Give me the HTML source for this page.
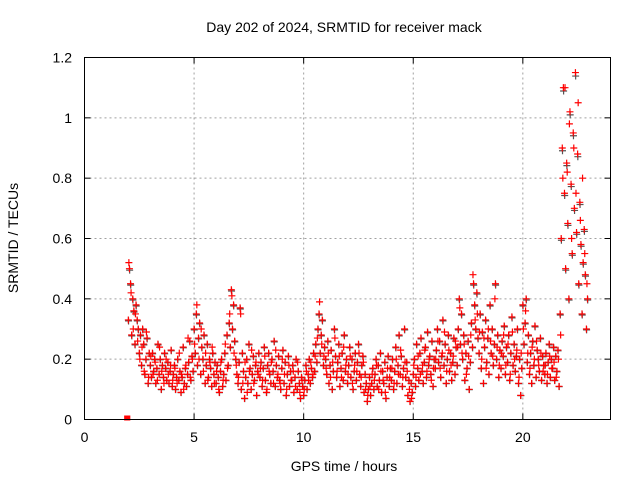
<!DOCTYPE html>
<html><head><meta charset="utf-8">
<style>
html,body{margin:0;padding:0;background:#fff;}
svg{display:block;font-family:"Liberation Sans",sans-serif;}
</style></head>
<body>
<svg id="chart" width="640" height="480" viewBox="0 0 640 480">
<rect width="640" height="480" fill="#fff"/>
<text x="344" y="32" font-size="14" text-anchor="middle" fill="#000">Day 202 of 2024, SRMTID for receiver mack</text>
<text x="344" y="471" font-size="14" text-anchor="middle" fill="#000">GPS time / hours</text>
<text transform="translate(18,238) rotate(-90)" font-size="14" text-anchor="middle" fill="#000">SRMTID / TECUs</text>
<g id="grid"></g>
<g id="ticks"></g>
<g id="points"></g>
<rect x="84.5" y="57.5" width="526" height="362" fill="none" stroke="#000" stroke-width="1"/>
</svg>
<script>
const xTicks = [0,5,10,15,20];
const yTicks = [0,0.2,0.4,0.6,0.8,1,1.2];
const yTickLabels = ["0","0.2","0.4","0.6","0.8","1","1.2"];
const zeroHours = [1.9,1.93,1.96,2.0];
const zeroValues = [0,0,0,0];
const values = [
0.33,0.50,0.45,0.28,0.40,0.36,0.25,0.38,0.33,0.30,0.22,0.28,0.18,0.30,0.25,0.15,0.20,0.27,0.12,0.22,
0.18,0.14,0.22,0.16,0.20,0.12,0.17,0.25,0.15,0.20,0.10,0.18,0.14,0.22,0.17,0.13,0.19,0.12,0.16,0.23,
0.11,0.15,0.18,0.10,0.14,0.20,0.13,0.16,0.09,0.14,0.24,0.12,0.17,0.11,0.15,0.19,0.26,0.13,0.21,0.16,
0.30,0.22,0.35,0.18,0.27,0.32,0.15,0.24,0.20,0.28,0.12,0.18,0.25,0.14,0.20,0.17,0.11,0.22,0.15,0.19,
0.12,0.18,0.14,0.09,0.16,0.20,0.11,0.15,0.22,0.13,0.28,0.18,0.32,0.24,0.43,0.30,0.38,0.26,0.20,0.15,
0.12,0.19,0.37,0.10,0.22,0.16,0.07,0.14,0.20,0.12,0.25,0.17,0.10,0.15,0.21,0.13,0.18,0.08,0.16,0.22,
0.14,0.19,0.11,0.17,0.24,0.13,0.09,0.18,0.22,0.15,0.12,0.20,0.16,0.26,0.11,0.18,0.14,0.21,0.13,0.10,
0.17,0.23,0.12,0.19,0.08,0.15,0.21,0.11,0.16,0.13,0.18,0.09,0.14,0.20,0.10,0.16,0.12,0.07,0.14,0.11,
0.08,0.13,0.18,0.10,0.15,0.20,0.12,0.17,0.14,0.22,0.16,0.25,0.19,0.30,0.35,0.22,0.28,0.33,0.18,0.24,
0.20,0.15,0.26,0.12,0.18,0.23,0.10,0.16,0.30,0.21,0.14,0.19,0.25,0.11,0.17,0.22,0.13,0.28,0.16,0.20,
0.12,0.18,0.24,0.14,0.20,0.10,0.16,0.22,0.13,0.19,0.25,0.15,0.11,0.18,0.21,0.09,0.15,0.12,0.06,0.10,
0.14,0.08,0.12,0.17,0.10,0.15,0.20,0.11,0.18,0.13,0.22,0.09,0.16,0.12,0.19,0.07,0.14,0.21,0.11,0.17,
0.13,0.20,0.10,0.16,0.24,0.12,0.18,0.28,0.15,0.21,0.11,0.17,0.30,0.14,0.19,0.08,0.13,0.06,0.12,0.09,
0.15,0.20,0.11,0.25,0.17,0.13,0.22,0.27,0.16,0.12,0.19,0.24,0.14,0.29,0.18,0.21,0.15,0.26,0.11,0.20,
0.17,0.23,0.30,0.19,0.26,0.14,0.21,0.33,0.18,0.25,0.12,0.20,0.28,0.16,0.22,0.13,0.19,0.27,0.15,0.24,
0.18,0.30,0.40,0.25,0.35,0.20,0.28,0.13,0.22,0.17,0.26,0.10,0.19,0.32,0.24,0.45,0.38,0.30,0.42,0.27,
0.22,0.35,0.17,0.29,0.12,0.24,0.33,0.19,0.27,0.15,0.38,0.22,0.30,0.18,0.25,0.45,0.20,0.28,0.14,0.23,
0.17,0.26,0.21,0.31,0.15,0.24,0.19,0.28,0.13,0.22,0.34,0.18,0.25,0.16,0.21,0.30,0.12,0.20,0.08,0.17,
0.38,0.25,0.32,0.40,0.19,0.28,0.15,0.22,0.12,0.26,0.18,0.31,0.14,0.23,0.20,0.16,0.27,0.13,0.21,0.18,
0.15,0.22,0.12,0.19,0.25,0.14,0.20,0.17,0.24,0.13,0.21,0.16,0.23,0.11,0.35,0.60,0.90,1.10,0.75,0.50,
0.85,0.65,0.40,1.02,0.78,0.55,0.95,0.70,1.15,0.62,0.88,0.45,0.72,0.58,0.35,0.52,0.63,0.48,0.30,0.40
];
const hours = values.map((v,i)=>2+i*0.05);
const valuesB = [
0.52,0.42,0.30,0.35,0.26,0.20,0.24,0.16,0.29,0.14,
0.21,0.15,0.19,0.13,0.24,0.16,0.12,0.20,0.15,0.18,
0.13,0.17,0.12,0.22,0.15,0.10,0.18,0.27,0.14,0.20,
0.25,0.38,0.20,0.30,0.16,0.22,0.13,0.19,0.24,0.12,
0.16,0.10,0.19,0.13,0.25,0.17,0.35,0.41,0.22,0.18,
0.14,0.35,0.12,0.19,0.09,0.16,0.23,0.12,0.19,0.15,
0.17,0.13,0.21,0.10,0.16,0.19,0.12,0.23,0.15,0.12,
0.20,0.15,0.10,0.18,0.13,0.16,0.11,0.19,0.09,0.13,
0.10,0.16,0.13,0.19,0.15,0.21,0.27,0.39,0.25,0.21,
0.17,0.22,0.14,0.19,0.27,0.16,0.21,0.14,0.24,0.18,
0.15,0.21,0.12,0.18,0.16,0.22,0.14,0.19,0.10,0.08,
0.11,0.15,0.13,0.18,0.10,0.16,0.13,0.09,0.17,0.14,
0.17,0.12,0.20,0.15,0.23,0.14,0.19,0.16,0.10,0.07,
0.18,0.14,0.21,0.15,0.18,0.23,0.16,0.20,0.13,0.17,
0.20,0.26,0.17,0.22,0.29,0.16,0.23,0.18,0.21,0.26,
0.24,0.37,0.22,0.25,0.15,0.21,0.28,0.48,0.33,0.35,
0.29,0.20,0.27,0.17,0.30,0.26,0.21,0.40,0.24,0.18,
0.22,0.28,0.18,0.25,0.15,0.29,0.20,0.23,0.14,0.22,
0.30,0.36,0.22,0.17,0.24,0.20,0.26,0.18,0.22,0.16,
0.18,0.15,0.21,0.17,0.19,0.14,0.20,0.28,0.80,1.10,
0.82,0.98,0.60,0.90,0.75,1.05,0.66,0.80,0.55,0.45
];
const hoursB = valuesB.map((v,i)=>2.025+i*0.1);

const X0=84.5, X1=610.5, Y0=419.5, Y1=57.5;
const xs = h => X0 + h/24*(X1-X0);
const ys = v => Y0 - v/1.2*(Y0-Y1);
const NS="http://www.w3.org/2000/svg";
const grid=document.getElementById('grid'), ticks=document.getElementById('ticks'), pts=document.getElementById('points');
function mk(tag,attrs,parent){const e=document.createElementNS(NS,tag);for(const k in attrs)e.setAttribute(k,attrs[k]);parent.appendChild(e);return e;}

xTicks.forEach(t=>{
  const x=xs(t);
  if(t>0){const g=mk('line',{x1:x,x2:x,y1:Y0,y2:Y1,stroke:'#a0a0a0','stroke-dasharray':'2,3'},grid);
  
  }
  const a=mk('line',{x1:x,x2:x,y1:Y0,y2:Y0-6,stroke:'#000'},ticks);
  
  
  const b=mk('line',{x1:x,x2:x,y1:Y1,y2:Y1+6,stroke:'#000'},ticks);
  
  
  const l=mk('text',{x:x,y:442,'font-size':14,'text-anchor':'middle'},ticks);
  l.textContent=String(t);
  
  
});
yTicks.forEach((t,i)=>{
  const y=ys(t);
  if(t>0&&t<1.2){const g=mk('line',{x1:X0,x2:X1,y1:y,y2:y,stroke:'#a0a0a0','stroke-dasharray':'2,3'},grid);
  
  }
  const a=mk('line',{x1:X0,x2:X0+6,y1:y,y2:y,stroke:'#000'},ticks);
  
  
  const b=mk('line',{x1:X1,x2:X1-6,y1:y,y2:y,stroke:'#000'},ticks);
  
  
  const l=mk('text',{x:72,y:y+5,'font-size':14,'text-anchor':'end'},ticks);
  l.textContent=yTickLabels[i];
  
  
});
function plus(h,v,color){
  const x=xs(h), y=ys(v);
  const p=mk('path',{d:`M${x-3.5},${y}H${x+3.5}M${x},${y-3.5}V${y+3.5}`,stroke:color,'stroke-width':1.2,fill:'none'},pts);
  
  
}
values.forEach((v,i)=>plus(hours[i]+0.01,v*0.99,'#555'));
values.forEach((v,i)=>plus(hours[i],v,'#ff0000'));
valuesB.forEach((v,i)=>plus(hoursB[i],v,'#ff0000'));
zeroHours.forEach((h,i)=>{
  const r=mk('rect',{x:xs(h)-2,y:ys(zeroValues[i])-4,width:4,height:5,fill:'#ff0000'},pts);
  
  
});
</script>
</body></html>
